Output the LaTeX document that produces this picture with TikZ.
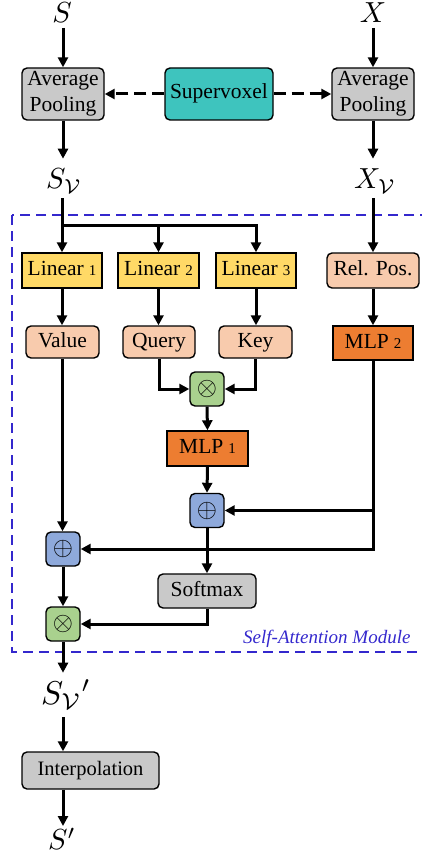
\documentclass[tikz,border=0pt]{standalone}
\usepackage{fontspec}
\usepackage{graphicx}
\setmainfont{Liberation Serif}
\usetikzlibrary{arrows.meta,calc}
\definecolor{cgray}{RGB}{201,201,201}
\definecolor{cteal}{RGB}{62,196,190}
\definecolor{cyel}{RGB}{255,217,102}
\definecolor{cpeach}{RGB}{248,203,173}
\definecolor{corange}{RGB}{237,125,49}
\definecolor{cgreen}{RGB}{169,209,142}
\definecolor{cblue}{RGB}{142,169,219}
\definecolor{cdash}{RGB}{52,40,205}
\newcommand{\sbn}[1]{\hspace{5pt}{\fontsize{15}{15}\selectfont #1}}
\newcommand{\scm}[2]{\scalebox{#1}{$#2$}}
\begin{document}
\begin{tikzpicture}[x=1pt,y=-1pt,
  lbl/.style={font=\fontsize{21.5}{26}\selectfont},
  boxb/.style={draw, line width=1.4pt, inner sep=0pt, align=center, lbl},
  one/.style={text height=14.5pt, text depth=4.5pt},
  rbox/.style={boxb, rounded corners=5pt},
  opbox/.style={draw, line width=1.4pt, inner sep=0pt, rounded corners=5pt, minimum width=34pt, minimum height=34pt},
  mathlbl/.style={inner sep=1pt},
  arr/.style={line width=3pt, -{Triangle[length=10pt,width=10pt]}},
  darr/.style={arr, dash pattern=on 12pt off 6pt},
]
\useasboundingbox (0,0) rectangle (421,861);

% self-attention module frame
\draw[cdash, line width=2pt, dash pattern=on 10pt off 6pt] (12,215) rectangle (440,652);
\node[anchor=east, text=cdash, font=\fontsize{19}{21}\selectfont\itshape] (samlbl) at (414,639) {Self-Attention Module};

% top
\node[mathlbl] (S) at (62,13) {\scm{2.9}{S}};
\node[mathlbl] (X) at (373,13) {\scm{2.9}{X}};
\node[rbox, fill=cgray, minimum width=82pt, minimum height=52pt] (avgL) at (63,94) {Average\\Pooling};
\node[rbox, one, fill=cteal, minimum width=108pt, minimum height=52pt] (sv) at (219,94) {Supervoxel};
\node[rbox, fill=cgray, minimum width=82pt, minimum height=52pt] (avgR) at (373,94) {Average\\Pooling};
\node[mathlbl] (SV) at (64,181) {\scm{2.9}{S_{\mathcal V}}};
\node[mathlbl] (XV) at (375,181) {\scm{2.9}{X_{\mathcal V}}};

% linear row
\node[boxb, one, fill=cyel, minimum width=80pt, minimum height=35pt] (lin1) at (62,270.5) {Linear\sbn{1}};
\node[boxb, one, fill=cyel, minimum width=81pt, minimum height=35pt] (lin2) at (158.5,270.5) {Linear\sbn{2}};
\node[boxb, one, fill=cyel, minimum width=80pt, minimum height=35pt] (lin3) at (256,270.5) {Linear\sbn{3}};
\node[rbox, one, fill=cpeach, minimum width=92pt, minimum height=35pt] (rel) at (373,270.5) {Rel. Pos.};

% value/query/key row
\node[rbox, one, fill=cpeach, minimum width=73pt, minimum height=32pt] (val) at (62.5,342) {Value};
\node[rbox, one, fill=cpeach, minimum width=72pt, minimum height=32pt] (qry) at (159,342) {Query};
\node[rbox, one, fill=cpeach, minimum width=73pt, minimum height=32pt] (key) at (255.5,342) {Key};
\node[boxb, one, fill=corange, minimum width=80pt, minimum height=34pt] (mlp2) at (373,343) {MLP\sbn{2}};

\node[opbox, fill=cgreen] (m1) at (207,389) {\scm{2.6}{\otimes}};
\node[boxb, one, fill=corange, minimum width=81pt, minimum height=35pt] (mlp1) at (207.5,448.5) {MLP\sbn{1}};
\node[opbox, fill=cblue] (a1) at (207,510.5) {\scm{2.6}{\oplus}};
\node[opbox, fill=cblue] (a2) at (63,549) {\scm{2.6}{\oplus}};
\node[rbox, one, fill=cgray, minimum width=98pt, minimum height=34pt] (soft) at (207,591) {Softmax};
\node[opbox, fill=cgreen] (m2) at (63,624) {\scm{2.6}{\otimes}};

% bottom
\node[mathlbl] (SVp) at (66,695) {\scm{3.3}{S_{\mathcal V}{}'}};
\node[rbox, one, fill=cgray, minimum width=137pt, minimum height=37pt, font=\fontsize{20.5}{24}\selectfont] (interp) at (90.5,770.5) {Interpolation};
\node[mathlbl] (Sp) at (62,839) {\scm{2.9}{S'}};

\coordinate (br) at (62,225);

% connectors
\draw[arr] (avgL.north |- 0,28) -- (avgL.north);
\draw[arr] (avgR.north |- 0,28) -- (avgR.north);
\draw[darr] (sv.west) -- (avgL.east);
\draw[darr] (sv.east) -- (avgR.west);
\draw[arr] (avgL.south) -- ($(avgL.south)+(0,38)$);
\draw[arr] (avgR.south) -- ($(avgR.south)+(0,38)$);

\draw[arr] ($(br)+(0,-27)$) -- (lin1.north);
\draw[arr, line join=miter] (br) -| (lin2.north);
\draw[arr, line join=miter] (br) -| (lin3.north);
\draw[arr] (rel.north |- br) ++(0,-27) -- (rel.north);

\draw[arr] (lin1.south) -- (lin1.south |- val.north);
\draw[arr] (lin2.south) -- (lin2.south |- qry.north);
\draw[arr] (lin3.south) -- (lin3.south |- key.north);
\draw[arr] (rel.south) -- (mlp2.north);

\draw[arr, line join=miter] (qry.south) |- (m1.west);
\draw[arr, line join=miter] (key.south) |- (m1.east);
\draw[arr] (m1.south) -- (mlp1.north);
\draw[arr] (mlp1.south) -- (a1.north);
\draw[arr, line join=miter] (mlp2.south) |- (a2.east);
\draw[arr] (mlp2.south |- a1.east) -- (a1.east);
\draw[arr] (val.south) -- (val.south |- a2.north);
\draw[arr] (a1.south) -- (soft.north);
\draw[arr] (a2.south) -- (m2.north);
\draw[arr, line join=miter] (soft.south) |- (m2.east);
\draw[arr] (m2.south) -- ($(m2.south)+(0,31)$);

\draw[arr] (m2.south |- 0,717) -- (m2.south |- interp.north);
\draw[arr] (m2.south |- interp.south) -- (m2.south |- 0,826);
\end{tikzpicture}
\end{document}
